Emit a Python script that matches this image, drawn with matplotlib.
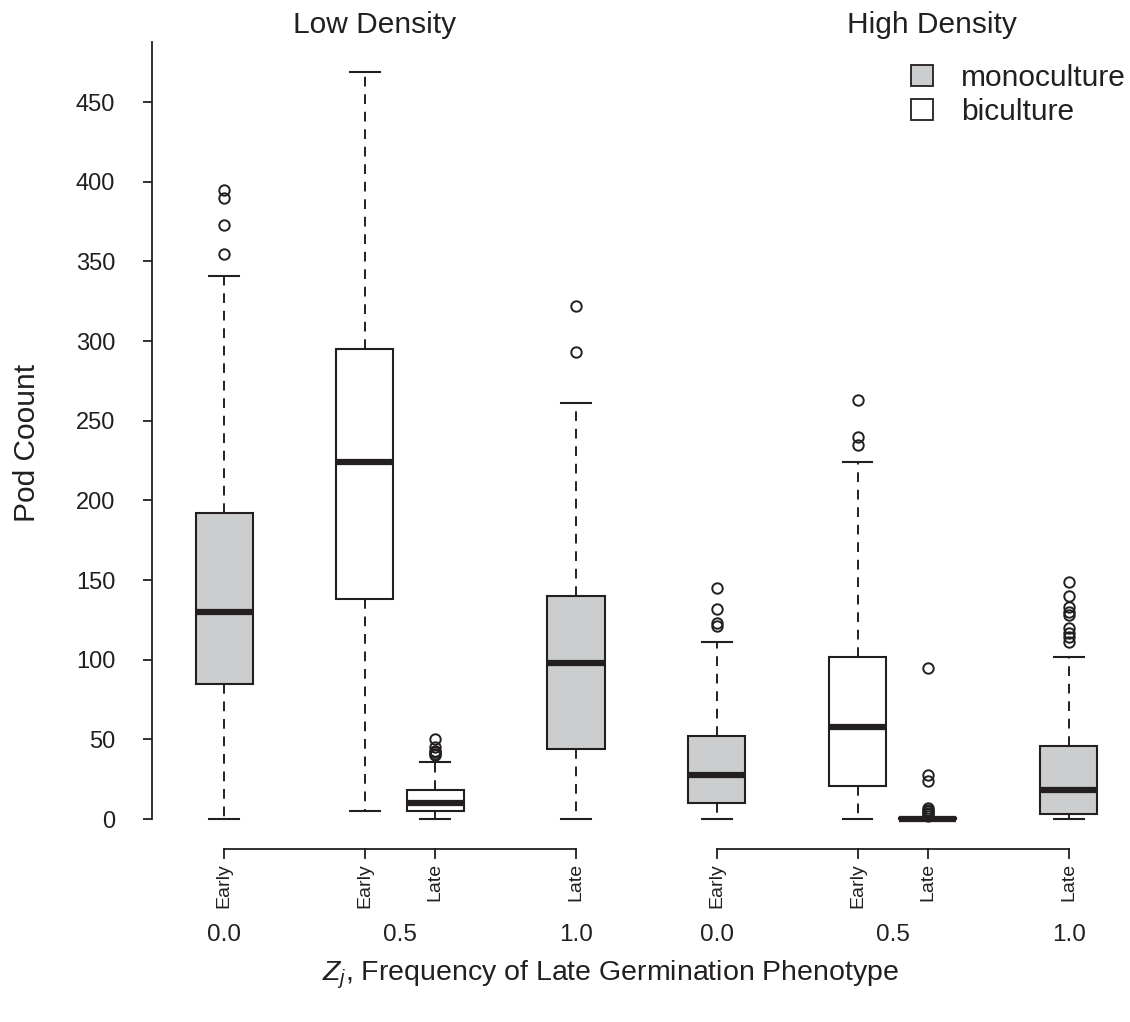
import numpy as np
import matplotlib
matplotlib.use('Agg')
import matplotlib.pyplot as plt
from matplotlib.patches import Patch

plt.rcParams['font.family'] = ['Liberation Sans', 'DejaVu Sans']
plt.rcParams['mathtext.fontset'] = 'custom'
plt.rcParams['mathtext.rm'] = 'Liberation Sans'
plt.rcParams['mathtext.it'] = 'Liberation Sans:italic'

## box summaries (R style boxplot)
density = ['Low', 'Low', 'Low', 'Low', 'High', 'High', 'High', 'High']
freq = ['0.0', '0.5', '0.5', '1.0', '0.0', '0.5', '0.5', '1.0']
phenotype = ['Early', 'Early', 'Late', 'Late', 'Early', 'Early', 'Late', 'Late']
culture = ['mono', 'bi', 'bi', 'mono', 'mono', 'bi', 'bi', 'mono']
whislo = [0, 5, 0, 0, 0, 0, 0, 0]
q1 = [85, 138, 5, 44, 10, 21, 0, 3]
med = [130, 224, 10, 98, 28, 58, 0, 18]
q3 = [192, 295, 18, 140, 52, 102, 0.5, 46]
whishi = [341, 469, 36, 261, 111, 224, 1, 102]
fliers = [
    [355, 373, 390, 395],
    [],
    [40, 41, 42, 43, 45, 50],
    [293, 322],
    [121, 123, 132, 145],
    [235, 240, 263],
    [2, 3, 4, 5, 6, 7, 24, 28, 95],
    [111, 114, 117, 120, 128, 130, 133, 140, 149],
]
positions = [0, 2, 3, 5, 7, 9, 10, 12]
group_titles = ['Low Density', 'High Density']
yticks = [0, 50, 100, 150, 200, 250, 300, 350, 400, 450]

ink = '#231f20'
grey = '#cccdcf'
fills = {'mono': grey, 'bi': 'white'}

W, H = 1130, 1022
fig = plt.figure(figsize=(W / 100, H / 100), dpi=100)
ax = fig.add_axes([152 / W, (H - 849) / H, (W - 152) / W, 807 / H])

stats = []
for i in range(len(positions)):
    stats.append(dict(med=med[i], q1=q1[i], q3=q3[i], whislo=whislo[i],
                      whishi=whishi[i], fliers=fliers[i]))

bp = ax.bxp(stats, positions=positions, widths=0.81, capwidths=0.42,
            patch_artist=True, manage_ticks=False,
            boxprops=dict(edgecolor=ink, linewidth=1.5),
            medianprops=dict(color=ink, linewidth=4.5, solid_capstyle='butt'),
            whiskerprops=dict(color=ink, linewidth=1.4, linestyle=(0, (5, 4))),
            capprops=dict(color=ink, linewidth=1.5),
            flierprops=dict(marker='o', markersize=7.5, markerfacecolor='none',
                            markeredgecolor=ink, markeredgewidth=1.4))
for box, c in zip(bp['boxes'], culture):
    box.set_facecolor(fills[c])

ax.set_xlim(-1.023, 12.87)
ax.set_ylim(-18.76, 487.76)
for s in ['top', 'right', 'bottom']:
    ax.spines[s].set_visible(False)
ax.spines['left'].set_bounds(0, 487.76)
ax.spines['left'].set_linewidth(1.3)
ax.spines['left'].set_color(ink)
ax.set_xticks([])
ax.set_yticks(yticks)
ax.tick_params(axis='y', length=6.5, width=1.3, color=ink, pad=20,
               labelsize=17, labelcolor=ink)

## bracket axes under each density group
trans = ax.get_xaxis_transform()
tk = 9 / 807
for g in range(2):
    idx = [i for i in range(len(positions)) if density[i] == group_titles[g].split()[0]]
    p = [positions[i] for i in idx]
    ax.plot([p[0], p[-1]], [0, 0], color=ink, lw=1.3, transform=trans, clip_on=False)
    for i in idx:
        ax.plot([positions[i], positions[i]], [0, -tk], color=ink, lw=1.3,
                transform=trans, clip_on=False)
        ax.text(positions[i], -14 / 807, phenotype[i], rotation=90, ha='center',
                va='top', fontsize=14, color=ink, transform=trans)
    for f in ['0.0', '0.5', '1.0']:
        pp = [positions[i] for i in idx if freq[i] == f]
        ax.text(np.mean(pp), -86 / 807, f, ha='center', va='center',
                fontsize=17.5, color=ink, transform=trans)

fig.text(375 / W, 1 - 25 / H, group_titles[0], ha='center', va='center',
         fontsize=21.5, color=ink)
fig.text(932 / W, 1 - 25 / H, group_titles[1], ha='center', va='center',
         fontsize=21.5, color=ink)
fig.text(27 / W, 1 - 443 / H, 'Pod Coount', rotation=90, ha='center',
         va='center', fontsize=21.5, color=ink)
fig.text(610 / W, 1 - 975 / H, '$Z_j$, Frequency of Late Germination Phenotype',
         ha='center', va='center', fontsize=20.5, color=ink)

handles = [Patch(facecolor=grey, edgecolor=ink, linewidth=1.3),
           Patch(facecolor='white', edgecolor=ink, linewidth=1.3)]
fig.legend(handles, ['monoculture', 'biculture'], loc='upper left',
           bbox_to_anchor=(911 / W, 1 - 64 / H), frameon=False, fontsize=21.5,
           handlelength=0.74, handleheight=0.67, handletextpad=0.95,
           labelspacing=0.2, borderpad=0, borderaxespad=0, labelcolor=ink)

fig.savefig('out.png', dpi=100)
